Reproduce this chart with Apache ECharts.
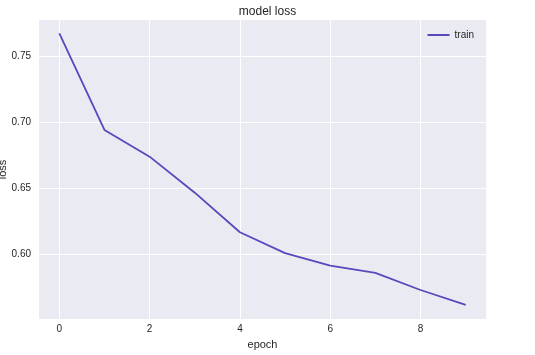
<!DOCTYPE html>
<html>
<head>
<meta charset="utf-8">
<script src="https://cdn.jsdelivr.net/npm/echarts@6/dist/echarts.min.js"></script>
<style>
html,body{margin:0;padding:0;background:#fff;}
#chart{width:535px;height:355px;}
</style>
</head>
<body>
<div id="chart"></div>
<script>
const epochs = [0, 1, 2, 3, 4, 5, 6, 7, 8, 9];
const trainLoss = [0.7671, 0.6942, 0.6740, 0.6468, 0.6169, 0.6011, 0.5917, 0.5862, 0.5733, 0.5620];
const xTicks = [0, 2, 4, 6, 8];
const yTicks = [0.60, 0.65, 0.70, 0.75];

const textColor = '#262626';
const font = 'Liberation Sans, Arial, sans-serif';

const chart = echarts.init(document.getElementById('chart'), null, {renderer: 'canvas'});
chart.setOption({
  animation: false,
  backgroundColor: '#ffffff',
  title: {
    text: 'model loss',
    left: 262.5,
    textAlign: 'center',
    top: 1,
    textStyle: {color: textColor, fontSize: 12, fontWeight: 'normal', fontFamily: font}
  },
  legend: {
    data: [{name: 'train', icon: 'rect'}],
    right: 56,
    top: 25,
    itemWidth: 22,
    itemHeight: 2,
    itemGap: 6,
    textStyle: {color: textColor, fontSize: 10, fontFamily: font}
  },
  grid: {
    left: 39, right: 49, top: 20, bottom: 36,
    containLabel: false,
    outerBoundsMode: 'none',
    show: true,
    backgroundColor: '#EAEAF2',
    borderWidth: 0
  },
  xAxis: {
    type: 'value',
    min: -0.45, max: 9.45,
    name: 'epoch',
    nameLocation: 'middle',
    nameGap: 20,
    nameMoveOverlap: false,
    nameTextStyle: {color: textColor, fontSize: 11, fontFamily: font},
    axisLine: {show: false},
    axisTick: {show: false, customValues: xTicks},
    axisLabel: {customValues: xTicks, color: textColor, fontSize: 10, fontFamily: font, margin: 5},
    splitLine: {show: true, lineStyle: {color: '#ffffff', width: 1}}
  },
  yAxis: {
    type: 'value',
    min: 0.5514, max: 0.7772,
    name: 'loss',
    nameLocation: 'middle',
    nameGap: 31,
    nameMoveOverlap: false,
    nameTextStyle: {color: textColor, fontSize: 11, fontFamily: font},
    axisLine: {show: false},
    axisTick: {show: false, customValues: yTicks},
    axisLabel: {customValues: yTicks, color: textColor, fontSize: 10, fontFamily: font, margin: 8,
      formatter: v => v.toFixed(2)},
    splitLine: {show: true, lineStyle: {color: '#ffffff', width: 1}}
  },
  series: [{
    name: 'train',
    type: 'line',
    data: epochs.map((e, i) => [e, trainLoss[i]]),
    showSymbol: false,
    symbol: 'none',
    itemStyle: {color: '#5549BD'},
    lineStyle: {color: '#5549BD', width: 1.8}
  }]
});
</script>
</body>
</html>
